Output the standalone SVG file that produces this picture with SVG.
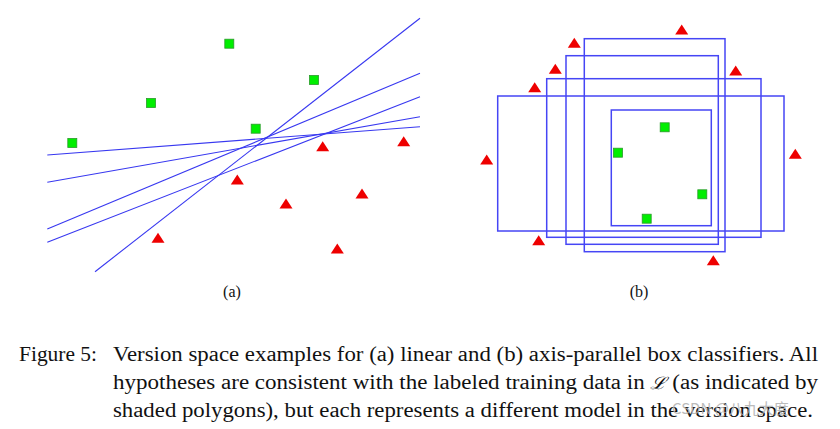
<svg xmlns="http://www.w3.org/2000/svg" xmlns:xlink="http://www.w3.org/1999/xlink" width="840" height="429" viewBox="0 0 840 429">
<defs>
<style>
.ln{stroke:#3838f0;stroke-width:1.1;fill:none}
.bx{stroke:#4646f5;stroke-width:1.5;fill:none}
.sq{fill:#00ee00;stroke:#2a9a2a;stroke-width:0.8}
.tri{fill:#ee0000}
.wm{fill:#b0b0b0;opacity:0.85}
</style>
<rect id="s" x="-4.5" y="-4.5" width="9" height="9" class="sq"/>
<polygon id="t" points="0,-5.5 6.5,4.5 -6.5,4.5" class="tri"/>
</defs>
<rect width="840" height="429" fill="#fff"/>

<g id="panel-a">
<g id="lines-a">
<line class="ln" x1="95" y1="271.7" x2="420" y2="18.3"/>
<line class="ln" x1="47.3" y1="155" x2="420" y2="126.7"/>
<line class="ln" x1="47.3" y1="182.3" x2="420" y2="116.7"/>
<line class="ln" x1="47.3" y1="229" x2="420" y2="73.3"/>
<line class="ln" x1="47.3" y1="242.3" x2="420" y2="96.7"/>
</g>
<g id="pos-a">
<use xlink:href="#s" x="229.3" y="43.7"/>
<use xlink:href="#s" x="314" y="80"/>
<use xlink:href="#s" x="151" y="103"/>
<use xlink:href="#s" x="255.7" y="128.7"/>
<use xlink:href="#s" x="72.3" y="143"/>
</g>
<g id="neg-a">
<use xlink:href="#t" x="322.7" y="146.7"/>
<use xlink:href="#t" x="403.7" y="141.7"/>
<use xlink:href="#t" x="237.3" y="180"/>
<use xlink:href="#t" x="362" y="194"/>
<use xlink:href="#t" x="286" y="204"/>
<use xlink:href="#t" x="158" y="238.3"/>
<use xlink:href="#t" x="337.3" y="249"/>
</g>
<text x="232" y="297" text-anchor="middle" font-family="'Liberation Serif', 'Times New Roman', serif" font-size="16" fill="#111">(a)</text>
</g>

<g id="panel-b">
<g id="boxes-b">
<rect class="bx" x="497.7" y="96" width="286.3" height="135"/>
<rect class="bx" x="546.7" y="78.7" width="214.3" height="158.6"/>
<rect class="bx" x="566" y="55.7" width="152.3" height="188.6"/>
<rect class="bx" x="584.3" y="38.7" width="140.7" height="213"/>
<rect class="bx" x="611.3" y="110" width="100" height="115.7"/>
</g>
<g id="pos-b">
<use xlink:href="#s" x="664.7" y="127.3"/>
<use xlink:href="#s" x="618" y="152.7"/>
<use xlink:href="#s" x="702.3" y="194.3"/>
<use xlink:href="#s" x="646.7" y="218.7"/>
</g>
<g id="neg-b">
<use xlink:href="#t" x="681.7" y="30"/>
<use xlink:href="#t" x="574.3" y="43.3"/>
<use xlink:href="#t" x="555.3" y="69.3"/>
<use xlink:href="#t" x="735.7" y="71"/>
<use xlink:href="#t" x="534.7" y="87.7"/>
<use xlink:href="#t" x="486.7" y="160"/>
<use xlink:href="#t" x="795.3" y="154.3"/>
<use xlink:href="#t" x="538.7" y="240.7"/>
<use xlink:href="#t" x="713.3" y="260.7"/>
</g>
<text x="639" y="297" text-anchor="middle" font-family="'Liberation Serif', 'Times New Roman', serif" font-size="16" fill="#111">(b)</text>
</g>

<g id="caption" font-family="'Liberation Serif', 'Times New Roman', serif" font-size="20" fill="#111">
<text x="19" y="361" textLength="78" lengthAdjust="spacingAndGlyphs">Figure 5:</text>
<text x="113" y="361" textLength="705" lengthAdjust="spacingAndGlyphs">Version space examples for (a) linear and (b) axis-parallel box classifiers.  All</text>
<text x="113" y="389" textLength="705" lengthAdjust="spacingAndGlyphs">hypotheses are consistent with the labeled training data in <tspan font-family="'DejaVu Serif', serif" font-style="italic" font-size="17">ℒ</tspan> (as indicated by</text>
<text x="113" y="417" textLength="700" lengthAdjust="spacingAndGlyphs">shaded polygons), but each represents a different model in the version space.</text>
</g>
<g id="watermark">
<text class="wm" x="672" y="414" font-family="'Noto Sans CJK SC', 'DejaVu Sans', sans-serif" font-size="15">CSDN @八九大度</text>
</g>
</svg>
